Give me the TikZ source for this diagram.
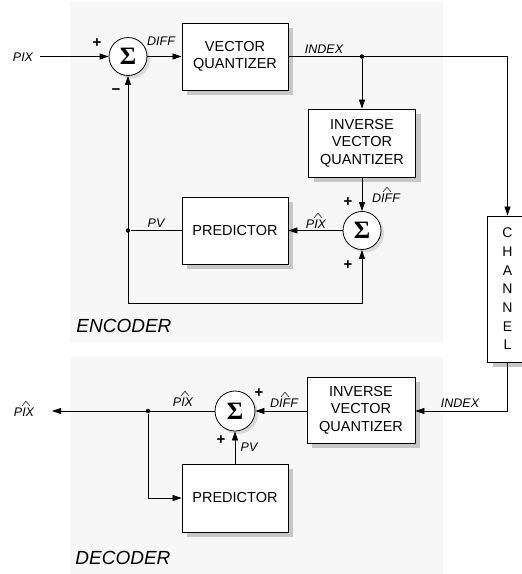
\documentclass[tikz,border=0pt]{standalone}
\usepackage{fontspec}
\setmainfont{Liberation Sans}
\newfontfamily\sigmafont{Liberation Serif}
\usetikzlibrary{arrows.meta,shadows}
\begin{document}
\begin{tikzpicture}[x=1pt,y=-1pt,
  line width=0.8pt,
  >={Triangle[length=9pt,width=6pt]},
  panel/.style={fill=black!3, draw=none},
  blk/.style={draw, fill=white, line width=0.9pt, minimum width=106pt, minimum height=67pt,
    align=center, font=\fontsize{14.5}{17.5}\selectfont, inner sep=0pt,
    general shadow={fill=black!22, shadow xshift=5pt, shadow yshift=-5pt}},
  sumnode/.style={draw, circle, fill=white, minimum size=38pt, inner sep=0pt,
    font={\fontsize{25}{25}\sigmafont\bfseries},
    general shadow={fill=black!15, shadow xshift=3pt, shadow yshift=-3pt}},
  lbl/.style={font=\fontsize{12.5}{14}\selectfont\itshape, inner sep=0pt},
  hatline/.style={line width=0.5pt, line join=round},
  sgn/.style={font=\fontsize{15}{15}\selectfont\bfseries, inner sep=0pt},
  paneltitle/.style={font=\fontsize{19}{20}\selectfont\itshape, anchor=west, inner sep=0pt},
  junct/.style={circle, fill, inner sep=0pt, minimum size=4.5pt},
]
\clip (0,0) rectangle (522,574);
% panels
\fill[panel] (70,2) rectangle (443,342);
\fill[panel] (70,357) rectangle (443,574);

% ---------------- encoder ----------------
\node[sumnode] (s1) at (128,56.5) {Σ};
\node[blk] (vq) at (235,56.5) {VECTOR\\QUANTIZER};
\node[blk, minimum width=107pt, minimum height=68pt] (ivq) at (362,143) {INVERSE\\VECTOR\\QUANTIZER};
\node[blk] (pe) at (235,230.5) {PREDICTOR};
\node[sumnode] (s2) at (362,230.5) {Σ};
\node[blk, minimum width=40pt, minimum height=146pt, font=\fontsize{14}{18.7}\selectfont] (ch) at (507.5,289) {C\\H\\A\\N\\N\\E\\L};

\coordinate (pixin) at (40,56.5);
\node[lbl] (pixlbl) at (23,57) {PIX};
\draw[->] (pixin) -- (s1.west);
\draw[->] (s1.east) -- (vq.west);
\node[junct] (j1) at (362,56.5) {};
\draw[->] (vq.east) -- (vq.east -| ch.north) -- (ch.north);
\draw[->] (j1) -- (ivq.north);
\draw[->] (ivq.south) -- (s2.north);
\draw[->] (s2.west) -- (pe.east);
\node[junct] (j2) at (128,230.5) {};
\draw (pe.west) -- (j2);
\coordinate (lb) at (128,303);
\draw[->] (lb) -- (s1.south);
\draw[->] (lb) -- (lb -| s2.south) -- (s2.south);

\node[sgn] (p1) at (97,43) {+};
\node[sgn] (m1) at (116,92) {\textminus};
\node[lbl] (diff1) at (161,41) {DIFF};
\node[lbl] (idx1) at (324,49) {INDEX};
\node[lbl] (diffh1) at (386,198) {DIFF};
\draw[hatline] ([xshift=-3pt,yshift=1.5pt]diffh1.north) -- ++(4,-4.5) -- ++(4,4.5);
\node[sgn] (p2) at (348,202) {+};
\node[sgn] (p3) at (348,265) {+};
\node[lbl] (pixh1) at (316,224) {PIX};
\draw[hatline] ([xshift=-2pt,yshift=1.5pt]pixh1.north) -- ++(4,-4.5) -- ++(4,4.5);
\node[lbl] (pv1) at (156,223) {PV};
\node[paneltitle] (enc) at (76,326) {ENCODER};

% ---------------- decoder ----------------
\node[sumnode, minimum size=40pt] (s3) at (235,411) {Σ};
\node[blk, minimum width=108pt, minimum height=66pt] (ivqd) at (361,410) {INVERSE\\VECTOR\\QUANTIZER};
\node[blk, minimum height=68pt] (pd) at (235,498) {PREDICTOR};

\draw[->] (ch.south) |- (ivqd.east |- s3.east);
\draw[->] (ivqd.west |- s3.east) -- (s3.east);
\draw[->] (pd.north) -- (s3.south);
\coordinate (out) at (52,411);
\node[junct] (j3) at (148,411) {};
\draw[->] (s3.west) -- (out);
\draw[->] (j3) |- (pd.west);

\node[lbl] (pixout) at (24,412) {PIX};
\draw[hatline] ([xshift=-2pt,yshift=1.5pt]pixout.north) -- ++(4,-4.5) -- ++(4,4.5);
\node[lbl] (pixh2) at (183,402) {PIX};
\draw[hatline] ([xshift=-2pt,yshift=1.5pt]pixh2.north) -- ++(4,-4.5) -- ++(4,4.5);
\node[sgn] (p4) at (259,393) {+};
\node[lbl] (diffh2) at (284,403) {DIFF};
\draw[hatline] ([xshift=-3pt,yshift=1.5pt]diffh2.north) -- ++(4,-4.5) -- ++(4,4.5);
\node[lbl] (idx2) at (460,403) {INDEX};
\node[sgn] (p5) at (221,440) {+};
\node[lbl] (pv2) at (249,447) {PV};
\node[paneltitle] (dec) at (75,558) {DECODER};
\end{tikzpicture}
\end{document}
